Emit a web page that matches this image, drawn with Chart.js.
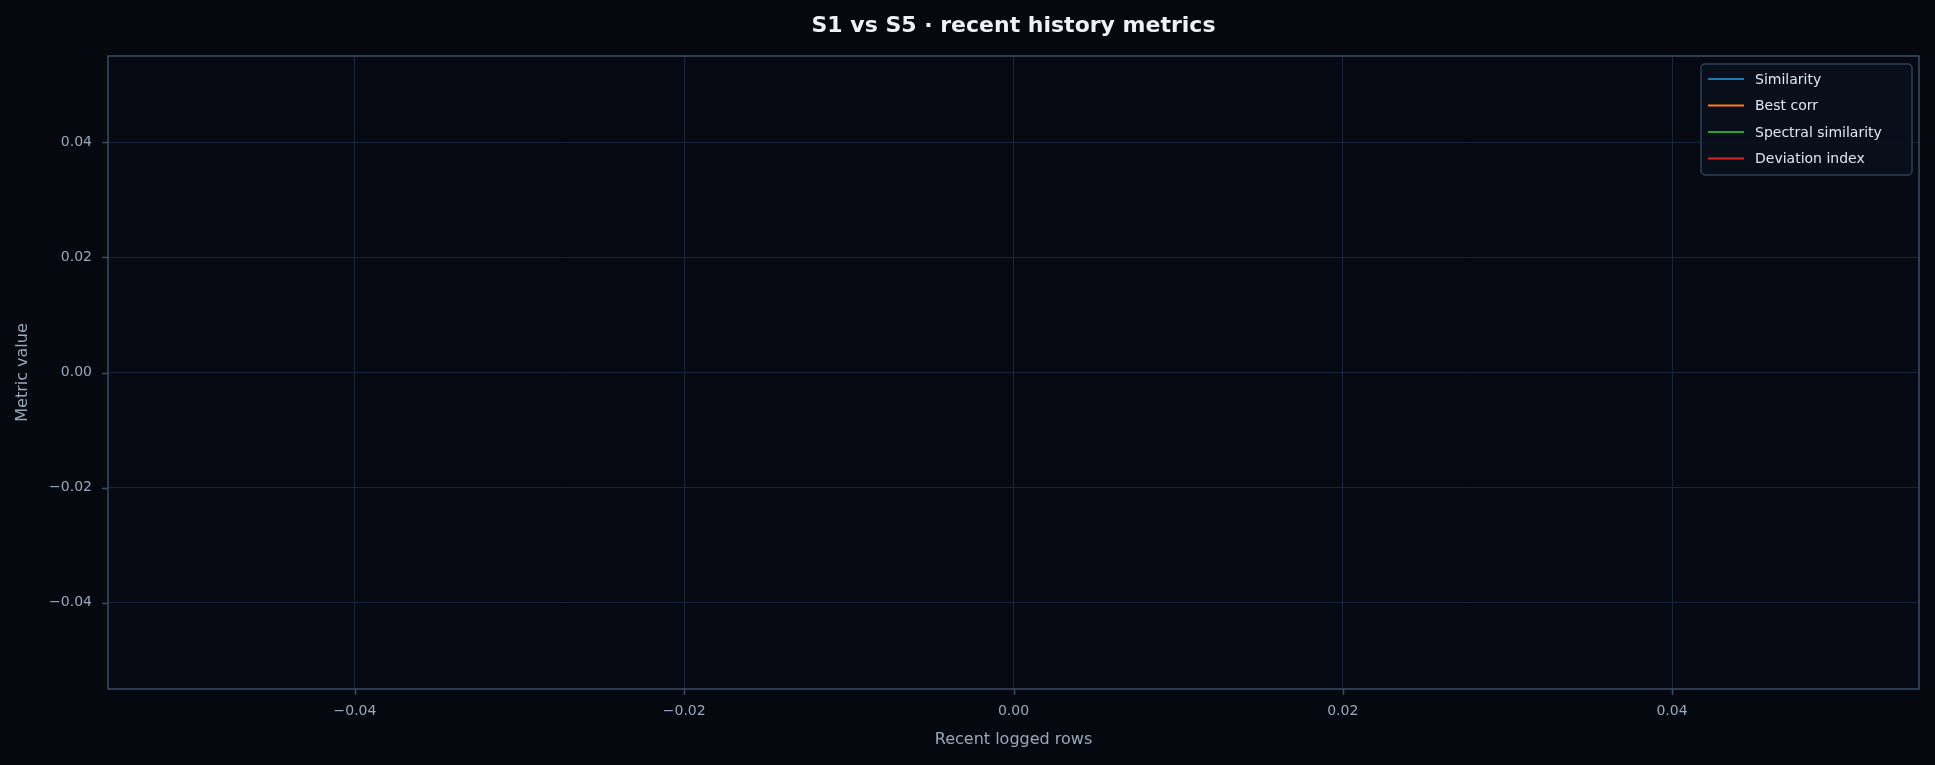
<!DOCTYPE html>
<html><head><meta charset="utf-8">
<script src="https://cdn.jsdelivr.net/npm/chart.js@4/dist/chart.umd.min.js"></script>
<style>html,body{margin:0;padding:0;background:#05080f;}#w{width:1935px;height:765px;}</style>
</head><body><div id="w"><canvas id="c"></canvas></div>
<script>
const seriesNames = ["Similarity","Best corr","Spectral similarity","Deviation index"];
const seriesColors = ["#1f77b4","#ff7f0e","#2ca02c","#d62728"];
const seriesValues = [[],[],[],[]];
const tickValues = [-0.04,-0.02,0,0.02,0.04];
const axisMin = -0.055, axisMax = 0.055;
const fmt = v => (v < 0 ? "\u2212" : "") + Math.abs(v).toFixed(2);

const bgPlugin = {
  id:'bg',
  beforeDraw(c){const x=c.ctx;x.save();x.fillStyle='#05080f';x.fillRect(0,0,c.width,c.height);
    const a=c.chartArea;x.fillStyle='#060911';x.fillRect(a.left,a.top,a.right-a.left,a.bottom-a.top);x.restore();},
  afterDraw(c){
    const x=c.ctx,a=c.chartArea;x.save();
    x.strokeStyle='#3a4d66';x.lineWidth=1.5;x.strokeRect(a.left,a.top,a.right-a.left,a.bottom-a.top);
    // tick marks
    x.beginPath();
    c.scales.x.ticks.forEach(t=>{const p=Math.round(c.scales.x.getPixelForValue(t.value))+0.5;x.moveTo(p,a.bottom);x.lineTo(p,a.bottom+6);});
    c.scales.y.ticks.forEach(t=>{const p=Math.round(c.scales.y.getPixelForValue(t.value))+0.5;x.moveTo(a.left,p);x.lineTo(a.left-6,p);});
    x.stroke();
    x.fillStyle='#eef2f8';x.font='bold 22px "DejaVu Sans"';x.textAlign='center';x.textBaseline='middle';
    x.fillText('S1 vs S5 \u00b7 recent history metrics',(a.left+a.right)/2,26);
    // axis titles
    x.fillStyle='#9aa8bc';x.font='16px "DejaVu Sans"';
    x.fillText('Recent logged rows',(a.left+a.right)/2,740);
    x.save();x.translate(23,(a.top+a.bottom)/2);x.rotate(-Math.PI/2);x.fillText('Metric value',0,0);x.restore();
    // legend
    const lx=1701,ly=64,lw=211,lh=111;
    x.fillStyle='rgba(9,16,28,0.92)';x.strokeStyle='#2f4058';x.lineWidth=1.5;
    x.beginPath();x.roundRect(lx,ly,lw,lh,4);x.fill();x.stroke();
    x.font='14px "DejaVu Sans"';x.textAlign='left';
    c.data.datasets.forEach((d,i)=>{
      const yy=ly+15+i*26.5;
      x.strokeStyle=d.borderColor;x.lineWidth=2;x.beginPath();x.moveTo(lx+7,yy);x.lineTo(lx+43,yy);x.stroke();
      x.fillStyle='#dfe6f0';x.fillText(d.label,lx+54,yy+1);
    });
    x.restore();
  }
};

new Chart(document.getElementById('c'),{
  type:'line',
  data:{datasets:seriesNames.map((n,i)=>({label:n,data:seriesValues[i],borderColor:seriesColors[i],backgroundColor:seriesColors[i],borderWidth:2,pointRadius:0}))},
  options:{
    responsive:true,maintainAspectRatio:false,animation:false,
    layout:{padding:{top:56,right:16,left:0,bottom:0}},
    plugins:{legend:{display:false},title:{display:false},tooltip:{enabled:false}},
    scales:{
      x:{type:'linear',min:axisMin,max:axisMax,
        afterBuildTicks(s){s.ticks=tickValues.map(v=>({value:v}));},
        afterFit(s){s.height=76;},
        border:{display:false},
        grid:{color:'#18243a',lineWidth:1,drawTicks:false},
        ticks:{color:'#9aa8bc',font:{size:14,family:'DejaVu Sans'},padding:14,maxRotation:0,callback:v=>fmt(v)}},
      y:{type:'linear',min:axisMin,max:axisMax,
        afterBuildTicks(s){s.ticks=tickValues.map(v=>({value:v}));},
        afterFit(s){s.width=108;},
        border:{display:false},
        grid:{color:'#18243a',lineWidth:1,drawTicks:false},
        ticks:{color:'#9aa8bc',font:{size:14,family:'DejaVu Sans'},padding:16,callback:v=>fmt(v)}}
    }
  },
  plugins:[bgPlugin]
});
</script></body></html>
